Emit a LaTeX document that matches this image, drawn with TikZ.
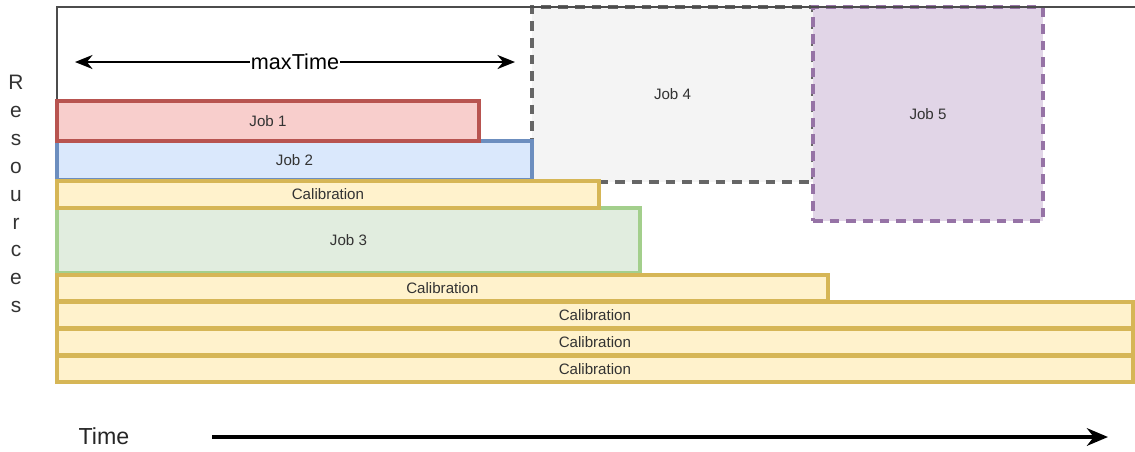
\documentclass[tikz,border=0pt]{standalone}
\usepackage{fontspec}
\setmainfont{Liberation Sans}
\usepackage{tikz}
\usetikzlibrary{arrows.meta, positioning}
\usepackage{xcolor}
\definecolor{redline}{HTML}{B85450}
\definecolor{redfill}{HTML}{F8CECC}
\definecolor{blueline}{HTML}{6C8EBF}
\definecolor{bluefill}{HTML}{DAE8FC}
\definecolor{calline}{HTML}{D6B656}
\definecolor{calfill}{HTML}{FFF2CC}
\definecolor{greenline}{HTML}{A3CF8C}
\definecolor{greenfill}{HTML}{E1EDDF}
\definecolor{grayline}{HTML}{666666}
\definecolor{grayfill}{HTML}{F4F4F4}
\definecolor{purpleline}{HTML}{9673A6}
\definecolor{purplefill}{HTML}{E1D5E7}

\begin{document}
\begin{tikzpicture}[x=0.02cm, y=-0.02cm,
    slot/.style={draw, line width=2pt, inner sep=0pt, outer sep=0pt, anchor=north west,
      font=\fontsize{8.6}{10}\selectfont, text=black!80},
    jobbox/.style={slot, draw=#1line, fill=#1fill},
    calbox/.style={slot, draw=calline, fill=calfill, minimum height=0.52cm},
    waitbox/.style={jobbox=#1, dash pattern=on 5.5pt off 4pt}]
  \useasboundingbox (0,0) rectangle (1135,451);

  \node[waitbox=gray, minimum width=5.62cm, minimum height=3.50cm] (job4) at (532,7) {Job 4};
  \node[waitbox=purple, minimum width=4.60cm, minimum height=4.28cm] (job5) at (813,7) {Job 5};

  \draw[black!70, line width=0.7pt] (57,383) -- (57,7) -- (1135,7);

  \node[jobbox=blue, minimum width=9.50cm, minimum height=0.78cm] (job2) at (57,141) {Job 2};
  \node[jobbox=red, minimum width=8.44cm, minimum height=0.80cm] (job1) at (57,101) {Job 1};
  \node[jobbox=green, minimum width=11.66cm, minimum height=1.30cm] (job3) at (57,208) {Job 3};
  \node[calbox, minimum width=10.84cm, minimum height=0.54cm] (cal1) at (57,181) {Calibration};
  \node[calbox, minimum width=15.42cm] (cal2) at (57,275) {Calibration};
  \node[calbox, minimum width=21.52cm] (cal3) at (57,302) {Calibration};
  \node[calbox, minimum width=21.52cm] (cal4) at (57,329) {Calibration};
  \node[calbox, minimum width=21.52cm] (cal5) at (57,356) {Calibration};

  \coordinate (mt-l) at (75,62);
  \coordinate (mt-r) at (515,62);
  \draw[{Stealth[length=10pt,width=8pt]}-{Stealth[length=10pt,width=8pt]}, line width=1.2pt]
    (mt-l) -- node[fill=white, inner sep=0.5pt, font=\fontsize{12.3}{14}\selectfont] (maxtime) {maxTime} (mt-r);

  \node[align=center, font=\fontsize{11.9}{15.9}\selectfont, text=black!80] (res) at (16,194)
    {R\\e\\s\\o\\u\\r\\c\\e\\s};

  \node[font=\fontsize{13.2}{15}\selectfont, text=black!85] (time) at (104,436) {Time};
  \coordinate (t-start) at (212,437);
  \coordinate (t-end) at (1108,437);
  \draw[-{Stealth[length=12pt,width=10pt]}, line width=2.1pt] (t-start) -- (t-end);
\end{tikzpicture}
\end{document}
